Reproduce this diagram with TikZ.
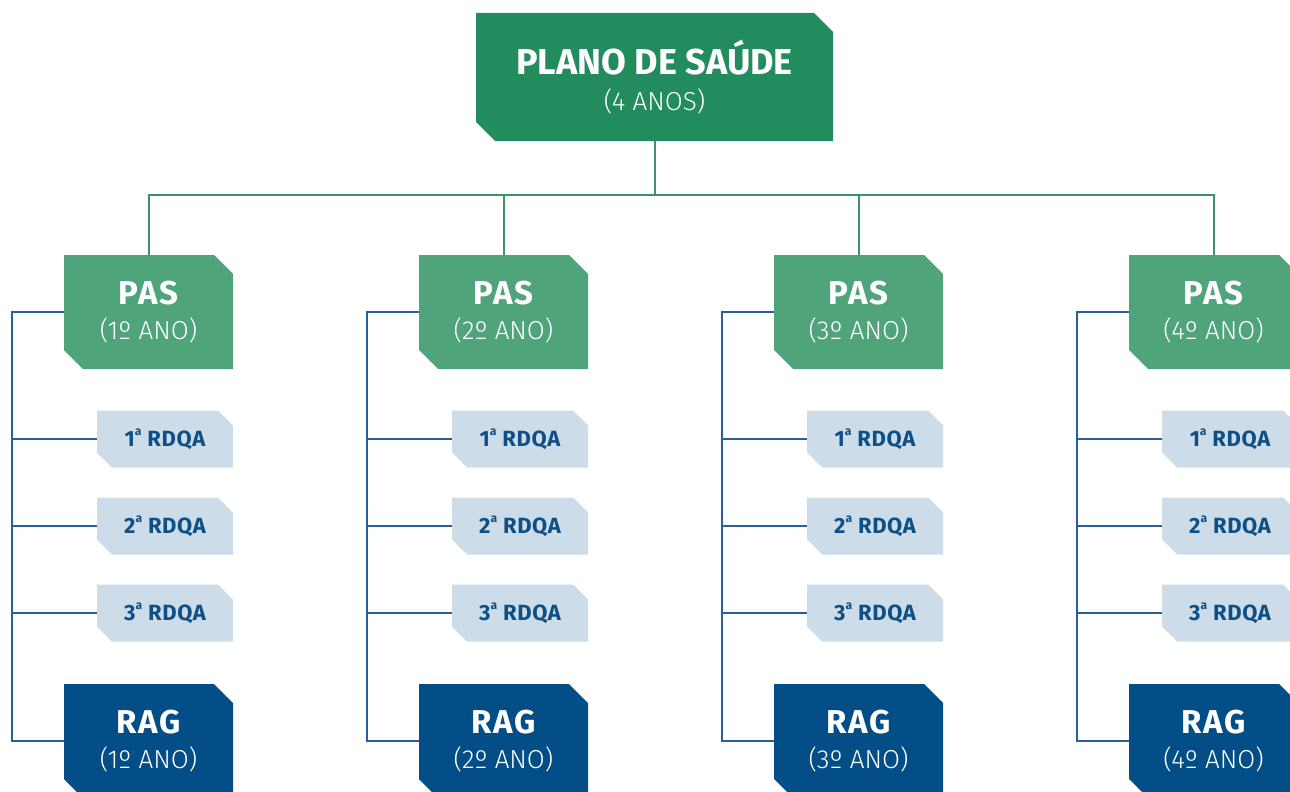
\documentclass[tikz,border=0pt]{standalone}
\usepackage{fontspec}
\setmainfont{Fira Sans}
\newfontfamily\lightfont{Fira Sans Light}
\usetikzlibrary{shapes.misc}
\definecolor{topgreen}{HTML}{238C5F}
\definecolor{pasgreen}{HTML}{4FA47C}
\definecolor{rdqafill}{HTML}{CCDCE8}
\definecolor{rdqatext}{HTML}{0E4F86}
\definecolor{ragblue}{HTML}{034E87}
\definecolor{greenline}{HTML}{3A9467}
\definecolor{blueline}{HTML}{2A5E96}
\tikzset{
  box/.style={chamfered rectangle, chamfered rectangle corners={north east,south west},
    inner sep=0pt, outer sep=0pt, align=center, text=white},
  topbox/.style={box, fill=topgreen, minimum width=357pt, minimum height=128pt,
    chamfered rectangle xsep=9.5pt, chamfered rectangle ysep=9.5pt},
  pasbox/.style={box, fill=pasgreen, minimum width=169pt, minimum height=114pt,
    chamfered rectangle xsep=9.5pt, chamfered rectangle ysep=9.5pt},
  ragbox/.style={pasbox, fill=ragblue},
  rdqabox/.style={box, fill=rdqafill, text=rdqatext, minimum width=136pt, minimum height=57pt,
    chamfered rectangle xsep=8pt, chamfered rectangle ysep=7pt,
    font=\fontsize{22}{24}\selectfont\bfseries\addfontfeatures{LetterSpace=3}},
  gline/.style={draw=greenline, line width=2pt},
  bline/.style={draw=blueline, line width=2pt},
}
\newcommand{\orda}{\raisebox{0.5em}{\fontsize{0.55em}{0.55em}\selectfont a}}
\newcommand{\twolines}[2]{{\fontsize{33}{36}\selectfont\bfseries\addfontfeatures{LetterSpace=5}#1}\\[12pt]{\fontsize{26}{28}\selectfont\lightfont #2}}
\begin{document}
\begin{tikzpicture}[x=1pt,y=-1pt]
\clip (0,0) rectangle (1290,792);
\node[topbox] (top) at (654.5,77) {{\fontsize{36}{40}\selectfont\bfseries PLANO DE SAÚDE}\\[12pt]{\fontsize{26}{28}\selectfont\lightfont (4 ANOS)}};
\coordinate (bus) at (654.5,195);
\draw[gline] (top.south) -- (bus);
\foreach \i/\n in {1/1,2/2,3/3,4/4}{
  \pgfmathsetmacro{\cx}{148.5+355*(\i-1)}
  \node[pasbox] (pas\i) at (\cx,312) {\twolines{PAS}{(\n º ANO)}};
  \node[ragbox] (rag\i) at (\cx,741) {\twolines{RAG}{(\n º ANO)}};
  \node[rdqabox] (ra\i) at (\cx+16.5,439) {1\orda\ RDQA};
  \node[rdqabox] (rb\i) at (\cx+16.5,526) {2\orda\ RDQA};
  \node[rdqabox] (rc\i) at (\cx+16.5,613) {3\orda\ RDQA};
  \coordinate (sp\i) at (\cx-136.5,312);
  \draw[gline] (pas\i.north) |- (bus);
  \draw[bline] (pas\i.west) -- (sp\i) |- (rag\i.west);
  \draw[bline] (ra\i.west) -- (ra\i.west -| sp\i);
  \draw[bline] (rb\i.west) -- (rb\i.west -| sp\i);
  \draw[bline] (rc\i.west) -- (rc\i.west -| sp\i);
}
\end{tikzpicture}
\end{document}
